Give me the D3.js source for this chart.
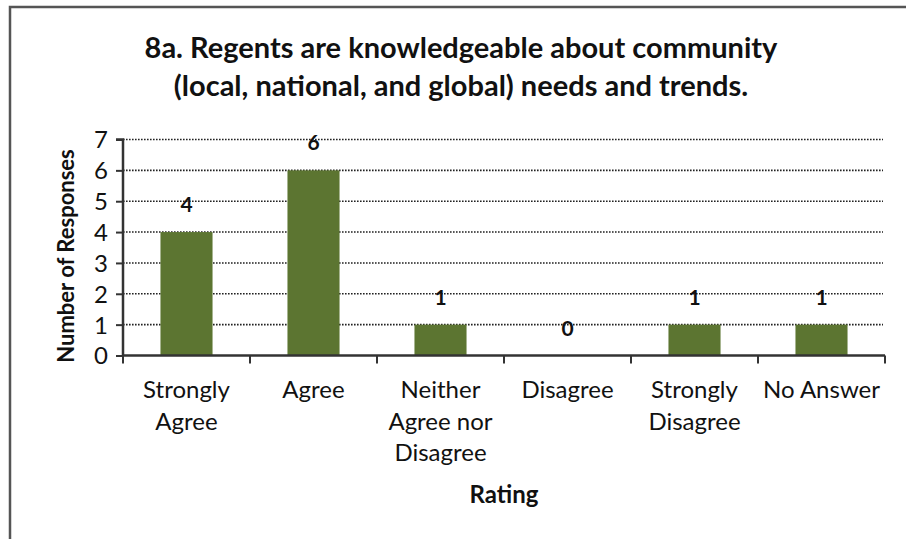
<!DOCTYPE html>
<html>
<head>
<meta charset="utf-8">
<script src="https://cdn.jsdelivr.net/npm/d3@7"></script>
<style>
  html, body { margin: 0; padding: 0; background: #fff; }
  svg { display: block; font-family: Lato, "Open Sans", sans-serif; }
</style>
</head>
<body>
<svg id="chart" width="906" height="539"></svg>
<script>
const titleLines = ["8a. Regents are knowledgeable about community", "(local, national, and global) needs and trends."];
const categories = [["Strongly", "Agree"], ["Agree"], ["Neither", "Agree nor", "Disagree"], ["Disagree"], ["Strongly", "Disagree"], ["No Answer"]];
const values = [4, 6, 1, 0, 1, 1];
const yTicks = [0, 1, 2, 3, 4, 5, 6, 7];
const yTitle = "Number of Responses";
const xTitle = "Rating";

const svg = d3.select("#chart");
const W = 906, H = 539;
const plot = { left: 123, right: 885, top: 139.5, bottom: 355.5 };
const catKeys = categories.map((c, i) => i);

const x = d3.scaleBand().domain(catKeys).range([plot.left, plot.right]).paddingInner(0.59).paddingOuter(0.295);
const xOuter = d3.scaleBand().domain(catKeys).range([plot.left, plot.right]);
const y = d3.scaleLinear().domain([0, 7]).range([plot.bottom, plot.top]);

// frame
svg.append("path")
  .attr("d", `M10,${H} L10,7 L${W},7`)
  .attr("fill", "none").attr("stroke", "#555").attr("stroke-width", 2.5);

// title
svg.append("text")
  .attr("x", 461).attr("y", 58)
  .attr("text-anchor", "middle")
  .attr("font-weight", "bold").attr("font-size", 29).attr("fill", "#111")
  .selectAll("tspan").data(titleLines).join("tspan")
  .attr("x", 461).attr("dy", (d, i) => i === 0 ? 0 : 38)
  .text(d => d);

// gridlines
svg.append("g")
  .selectAll("line").data(yTicks.filter(t => t > 0)).join("line")
  .attr("x1", plot.left).attr("x2", plot.right - 2)
  .attr("y1", d => y(d)).attr("y2", d => y(d))
  .attr("stroke", "#222").attr("stroke-width", 1.6)
  .attr("stroke-dasharray", "1.6,1.4");

// bars
svg.append("g")
  .selectAll("rect").data(values).join("rect")
  .attr("x", (d, i) => x(i)).attr("width", x.bandwidth())
  .attr("y", d => y(d)).attr("height", d => y(0) - y(d))
  .attr("fill", "#5c7531");

// value labels
svg.append("g")
  .selectAll("text").data(values).join("text")
  .attr("x", (d, i) => x(i) + x.bandwidth() / 2)
  .attr("y", d => y(d) - 20)
  .attr("text-anchor", "middle")
  .attr("font-weight", "bold").attr("font-size", 21).attr("fill", "#111")
  .text(d => d);

// y axis
const yAxis = d3.axisLeft(y).tickValues(yTicks).tickSize(7).tickPadding(8).tickFormat(d3.format("d"));
const gy = svg.append("g").attr("transform", `translate(${plot.left},0)`).call(yAxis);
gy.select(".domain").attr("stroke", "#333").attr("stroke-width", 2.5).attr("d", `M-7,${plot.top}H0V${plot.bottom}`);
gy.selectAll(".tick line").attr("stroke", "#333").attr("stroke-width", 2);
gy.selectAll(".tick text").attr("font-size", 24).attr("fill", "#111").attr("font-family", "Lato, sans-serif").attr("dy", "0.35em");

// x axis
const boundaries = catKeys.map(i => xOuter(i)).concat([plot.right]);
const gx = svg.append("g");
gx.append("line").attr("x1", plot.left).attr("x2", plot.right).attr("y1", plot.bottom).attr("y2", plot.bottom)
  .attr("stroke", "#333").attr("stroke-width", 2.5);
gx.selectAll("line.t").data(boundaries).join("line").attr("class", "t")
  .attr("x1", d => d).attr("x2", d => d).attr("y1", plot.bottom).attr("y2", plot.bottom + 8)
  .attr("stroke", "#333").attr("stroke-width", 2);

gx.selectAll("text.cat").data(categories).join("text").attr("class", "cat")
  .attr("text-anchor", "middle").attr("font-size", 24).attr("fill", "#111")
  .attr("y", 398)
  .each(function(d, i) {
    d3.select(this).selectAll("tspan").data(d).join("tspan")
      .attr("x", xOuter(i) + xOuter.bandwidth() / 2)
      .attr("dy", (t, j) => j === 0 ? 0 : 31.5)
      .text(t => t);
  });

// axis titles
svg.append("text")
  .attr("x", (plot.left + plot.right) / 2).attr("y", 503)
  .attr("text-anchor", "middle").attr("font-weight", "bold").attr("font-size", 24).attr("fill", "#111")
  .text(xTitle);

svg.append("text")
  .attr("transform", "translate(74,256) rotate(-90)")
  .attr("text-anchor", "middle").attr("font-weight", "bold").attr("font-size", 22).attr("fill", "#111")
  .text(yTitle);
</script>
</body>
</html>
